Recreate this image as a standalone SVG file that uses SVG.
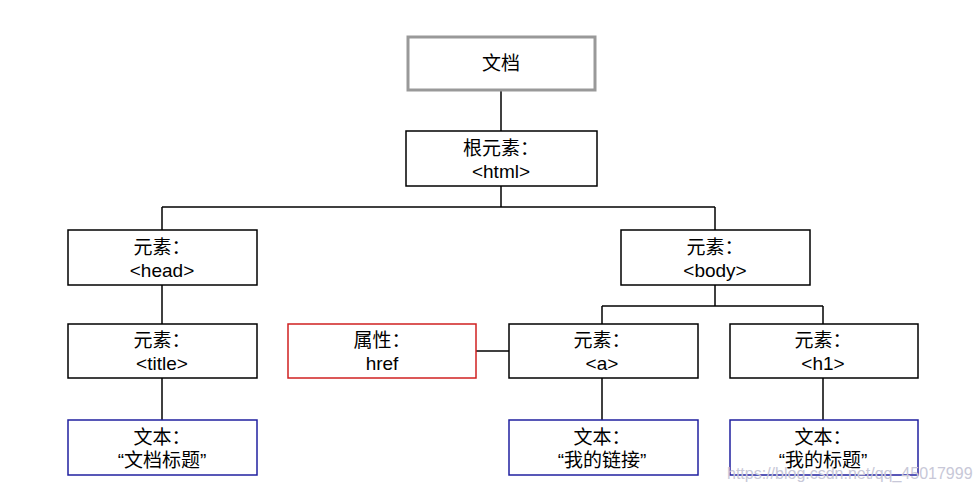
<svg xmlns="http://www.w3.org/2000/svg" width="979" height="494" viewBox="0 0 979 494">
<style>
.b{fill:#fff;stroke:#000;stroke-width:1.5}
.g{fill:#fff;stroke:#999;stroke-width:3}
.r{fill:#fff;stroke:#d02020;stroke-width:1.5}
.u{fill:#fff;stroke:#2020a0;stroke-width:1.5}
text{font-family:"Liberation Sans","Noto Sans CJK SC",sans-serif;font-size:19px;text-anchor:middle;fill:#000}
.c line{stroke:#000;stroke-width:1.5}
.w{font-size:16px;fill:#c8c8d8;text-anchor:start}
</style>
<rect width="979" height="494" fill="#fff"/>
<g class="c" id="connectors">
<line x1="501" y1="90" x2="501" y2="131"/>
<line x1="501" y1="186" x2="501" y2="207"/>
<line x1="162" y1="207" x2="715" y2="207"/>
<line x1="162" y1="207" x2="162" y2="230"/>
<line x1="715" y1="207" x2="715" y2="230"/>
<line x1="162" y1="285" x2="162" y2="324"/>
<line x1="715" y1="285" x2="715" y2="306"/>
<line x1="602" y1="306" x2="823" y2="306"/>
<line x1="602" y1="306" x2="602" y2="324"/>
<line x1="823" y1="306" x2="823" y2="324"/>
<line x1="476" y1="351" x2="509" y2="351"/>
<line x1="162" y1="378" x2="162" y2="420"/>
<line x1="602" y1="378" x2="602" y2="420"/>
<line x1="823" y1="378" x2="823" y2="420"/>
</g>
<g id="doc"><rect class="g" x="408" y="37" width="187" height="53"/><text x="501" y="70">文档</text></g>
<g id="html"><rect class="b" x="406" y="131" width="191" height="55"/><text x="501" y="155">根元素：</text><text x="501" y="178">&lt;html&gt;</text></g>
<g id="head"><rect class="b" x="68" y="230" width="189" height="55"/><text x="162" y="254">元素：</text><text x="162" y="277">&lt;head&gt;</text></g>
<g id="body"><rect class="b" x="621" y="230" width="189" height="55"/><text x="715" y="254">元素：</text><text x="715" y="277">&lt;body&gt;</text></g>
<g id="title"><rect class="b" x="68" y="324" width="189" height="54"/><text x="162" y="347">元素：</text><text x="162" y="370">&lt;title&gt;</text></g>
<g id="href"><rect class="r" x="288" y="324" width="188" height="54"/><text x="382" y="347">属性：</text><text x="382" y="370">href</text></g>
<g id="a"><rect class="b" x="509" y="324" width="189" height="54"/><text x="602" y="347">元素：</text><text x="602" y="370">&lt;a&gt;</text></g>
<g id="h1"><rect class="b" x="730" y="324" width="188" height="54"/><text x="823" y="347">元素：</text><text x="823" y="370">&lt;h1&gt;</text></g>
<g id="t1"><rect class="u" x="68" y="420" width="189" height="55"/><text x="162" y="444">文本：</text><text x="162" y="467">“文档标题”</text></g>
<g id="t2"><rect class="u" x="509" y="420" width="189" height="55"/><text x="602" y="444">文本：</text><text x="602" y="467">“我的链接”</text></g>
<g id="t3"><rect class="u" x="730" y="420" width="188" height="55"/><text x="823" y="444">文本：</text><text x="823" y="467">“我的标题”</text></g>
<text class="w" x="727" y="479">https://blog.csdn.net/qq_45017999</text>
</svg>
